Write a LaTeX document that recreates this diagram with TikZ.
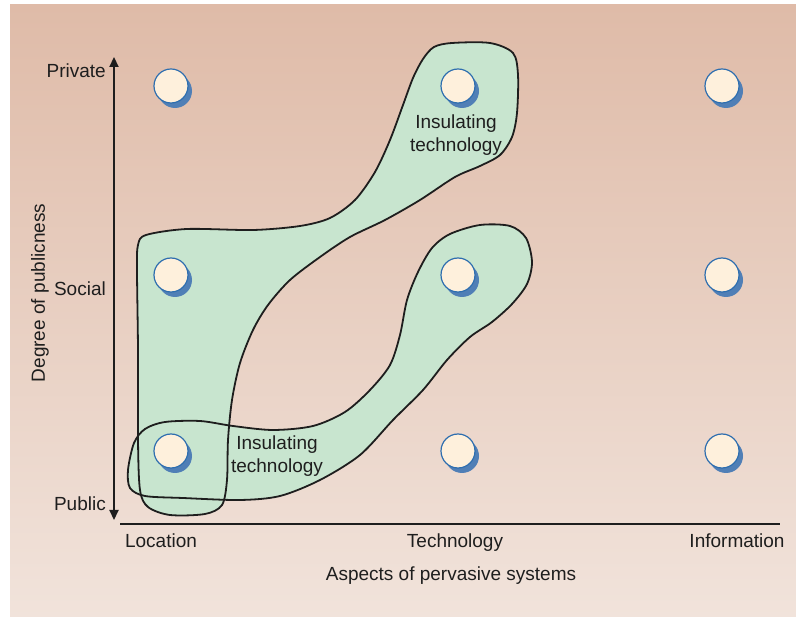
\documentclass[tikz,border=0pt]{standalone}
\usepackage{fontspec}
\setmainfont{Liberation Sans}
\usetikzlibrary{arrows.meta,shadows}
\definecolor{bgtop}{RGB}{223,187,168}
\definecolor{bgbot}{RGB}{241,227,219}
\definecolor{blobgreen}{RGB}{200,229,207}
\definecolor{cream}{RGB}{254,240,220}
\definecolor{ringblue}{RGB}{46,110,175}
\definecolor{shadeblue}{RGB}{80,127,182}
\definecolor{ink}{RGB}{30,30,30}
\begin{document}
\begin{tikzpicture}[x=1pt,y=-1pt,
  lbl/.style={font=\fontsize{19}{23}\selectfont, text=ink, inner sep=0pt},
  dot/.style={circle, minimum size=34pt, inner sep=0pt, draw=ringblue, line width=1.2pt, fill=cream,
    drop shadow={shadow xshift=4pt, shadow yshift=-5pt, fill=shadeblue, opacity=1}},
  blob/.style={draw=ink, line width=1.8pt},
  axisline/.style={draw=ink, line width=2.2pt},
]
\useasboundingbox (0,0) rectangle (796,617);
\shade[top color=bgtop, bottom color=bgbot] (10,5) rectangle (796,617);

% fills
\fill[blobgreen] plot[smooth cycle] coordinates {
 (423,59) (434,47) (452,43) (490,43) (513,53) (518,75) (517,113) (512,137) (500,155) (480,166) (455,177)
 (420,200) (385,220) (350,237) (320,257) (290,280) (268,305) (253,330) (240,363) (232,400)
 (228,440) (227,480) (222,505) (205,514) (170,515) (148,507) (140,490) (138,440) (138,350)
 (137,270) (138,245) (146,235) (187,229) (253,230) (300,226) (330,218) (355,200) (375,172)
 (390,140) (403,105) (413,78)};
\fill[blobgreen] plot[smooth cycle] coordinates {
 (128,470) (134,443) (145,429) (165,422) (200,421) (233,426) (273,430) (313,426) (345,412)
 (370,390) (390,365) (400,335) (407,300) (418,272) (432,248) (450,234) (480,225) (510,226)
 (526,238) (532,262) (527,284) (512,304) (492,322) (470,337) (447,360) (423,390) (393,420)
 (360,455) (320,480) (280,496) (240,500) (183,498) (145,496) (130,488)};
% outlines
\draw[blob] plot[smooth cycle] coordinates {
 (423,59) (434,47) (452,43) (490,43) (513,53) (518,75) (517,113) (512,137) (500,155) (480,166) (455,177)
 (420,200) (385,220) (350,237) (320,257) (290,280) (268,305) (253,330) (240,363) (232,400)
 (228,440) (227,480) (222,505) (205,514) (170,515) (148,507) (140,490) (138,440) (138,350)
 (137,270) (138,245) (146,235) (187,229) (253,230) (300,226) (330,218) (355,200) (375,172)
 (390,140) (403,105) (413,78)};
\draw[blob] plot[smooth cycle] coordinates {
 (128,470) (134,443) (145,429) (165,422) (200,421) (233,426) (273,430) (313,426) (345,412)
 (370,390) (390,365) (400,335) (407,300) (418,272) (432,248) (450,234) (480,225) (510,226)
 (526,238) (532,262) (527,284) (512,304) (492,322) (470,337) (447,360) (423,390) (393,420)
 (360,455) (320,480) (280,496) (240,500) (183,498) (145,496) (130,488)};

% circles
\node[dot] (locpriv) at (171,86) {};
\node[dot] (locsoc) at (171,275) {};
\node[dot] (locpub) at (171,451) {};
\node[dot] (techpriv) at (458,86) {};
\node[dot] (techsoc) at (458,275) {};
\node[dot] (techpub) at (458,451) {};
\node[dot] (infopriv) at (722,86) {};
\node[dot] (infosoc) at (722,275) {};
\node[dot] (infopub) at (722,451) {};

% axes
\coordinate (ytop) at (114,57);
\coordinate (ybot) at (114,520);
\coordinate (xleft) at (120,524);
\coordinate (xright) at (780,524);
\draw[axisline, {Triangle[length=10pt,width=9pt]}-{Triangle[length=10pt,width=9pt]}] (ybot) -- (ytop);
\draw[axisline] (xleft) -- (xright);

% labels
\node[lbl, anchor=base east] (private) at (106,77.5) {Private};
\node[lbl, anchor=base east] (social) at (106,296) {Social};
\node[lbl, anchor=base east] (public) at (106,511) {Public};
\node[lbl, anchor=base] (location) at (161,548) {Location};
\node[lbl, anchor=base] (technology) at (455,548) {Technology};
\node[lbl, anchor=base] (information) at (737,548) {Information};
\node[lbl, anchor=base] (aspects) at (451,581) {Aspects of pervasive systems};
\node[lbl, anchor=base, rotate=90] (degree) at (45,293) {Degree of publicness};
\node[lbl, anchor=base] (insA1) at (456,129) {Insulating};
\node[lbl, anchor=base] (insA2) at (456,152) {technology};
\node[lbl, anchor=base] (insB1) at (277,450) {Insulating};
\node[lbl, anchor=base] (insB2) at (277,473) {technology};
\end{tikzpicture}
\end{document}
